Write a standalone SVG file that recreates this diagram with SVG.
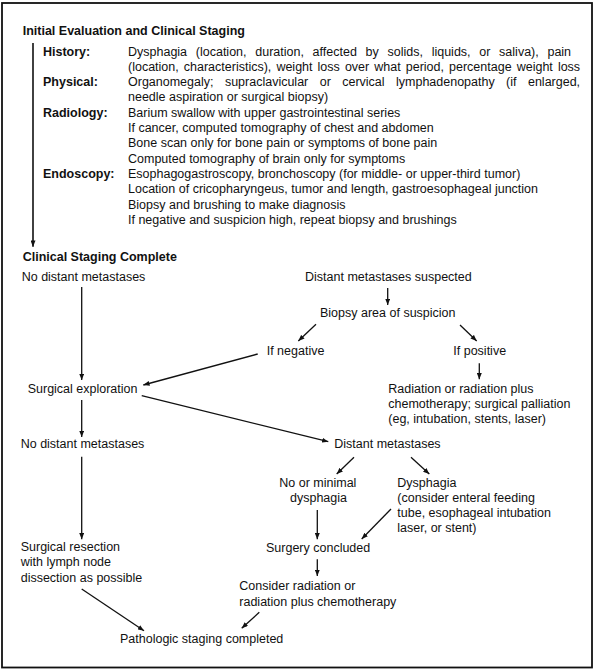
<svg xmlns="http://www.w3.org/2000/svg" width="595" height="670" viewBox="0 0 595 670">
<defs>
<style>
text{font-family:"Liberation Sans",Arial,Helvetica,sans-serif;font-size:12.5px;fill:#111}
.b{font-weight:bold}
.c line{stroke:#111;stroke-width:1.3;fill:none;marker-end:url(#ah)}
</style>
<marker id="ah" viewBox="0 0 10 8" refX="10" refY="4" markerWidth="6.5" markerHeight="5" markerUnits="userSpaceOnUse" orient="auto">
<path d="M0,0 L10,4 L0,8 z" fill="#111"/>
</marker>
</defs>
<rect x="0" y="0" width="595" height="670" fill="#fff"/>
<rect x="2" y="3" width="590" height="664.5" fill="none" stroke="#111" stroke-width="1.8"/>

<g id="initial-evaluation">
<text class="b" x="22.7" y="35">Initial Evaluation and Clinical Staging</text>
<text class="b" x="43" y="55.5">History:</text>
<text x="128" y="55.5" word-spacing="5.25">Dysphagia (location, duration, affected by solids, liquids, or saliva), pain</text>
<text x="128" y="70.8" word-spacing="1.6">(location, characteristics), weight loss over what period, percentage weight loss</text>
<text class="b" x="43" y="86.1">Physical:</text>
<text x="128" y="86.1" word-spacing="7.95">Organomegaly; supraclavicular or cervical lymphadenopathy (if enlarged,</text>
<text x="128" y="101.4">needle aspiration or surgical biopsy)</text>
<text class="b" x="43" y="116.7">Radiology:</text>
<text x="128" y="116.7">Barium swallow with upper gastrointestinal series</text>
<text x="128" y="132">If cancer, computed tomography of chest and abdomen</text>
<text x="128" y="147.3">Bone scan only for bone pain or symptoms of bone pain</text>
<text x="128" y="162.6">Computed tomography of brain only for symptoms</text>
<text class="b" x="43" y="177.9">Endoscopy:</text>
<text x="128" y="177.9">Esophagogastroscopy, bronchoscopy (for middle- or upper-third tumor)</text>
<text x="128" y="193.2">Location of cricopharyngeus, tumor and length, gastroesophageal junction</text>
<text x="128" y="208.5">Biopsy and brushing to make diagnosis</text>
<text x="128" y="223.8">If negative and suspicion high, repeat biopsy and brushings</text>
</g>

<g id="clinical-staging-complete"><text class="b" x="22.7" y="260.7">Clinical Staging Complete</text></g>
<g id="no-distant-metastases-1"><text x="21.7" y="280.7">No distant metastases</text></g>
<g id="distant-metastases-suspected"><text x="305" y="280.7">Distant metastases suspected</text></g>
<g id="biopsy-area"><text x="320" y="317.3">Biopsy area of suspicion</text></g>
<g id="if-negative"><text x="266.7" y="355">If negative</text></g>
<g id="if-positive"><text x="453.3" y="355">If positive</text></g>
<g id="surgical-exploration"><text x="27.7" y="393.3">Surgical exploration</text></g>
<g id="radiation-palliation">
<text x="388.3" y="392.7">Radiation or radiation plus</text>
<text x="388.3" y="407.7">chemotherapy; surgical palliation</text>
<text x="388.3" y="423.3">(eg, intubation, stents, laser)</text>
</g>
<g id="no-distant-metastases-2"><text x="20.7" y="448.3">No distant metastases</text></g>
<g id="distant-metastases"><text x="334.3" y="448.3">Distant metastases</text></g>
<g id="no-minimal-dysphagia">
<text x="279.3" y="486.7">No or minimal</text>
<text x="290" y="501.7">dysphagia</text>
</g>
<g id="dysphagia">
<text x="397.3" y="486.7">Dysphagia</text>
<text x="397.3" y="501.7">(consider enteral feeding</text>
<text x="397.3" y="517">tube, esophageal intubation</text>
<text x="397.3" y="532">laser, or stent)</text>
</g>
<g id="surgery-concluded"><text x="266" y="551.7">Surgery concluded</text></g>
<g id="surgical-resection">
<text x="20.7" y="551">Surgical resection</text>
<text x="20.7" y="566">with lymph node</text>
<text x="20.7" y="581.7">dissection as possible</text>
</g>
<g id="consider-radiation">
<text x="239.3" y="590">Consider radiation or</text>
<text x="239.3" y="605.7">radiation plus chemotherapy</text>
</g>
<g id="pathologic-staging"><text x="120" y="642.7">Pathologic staging completed</text></g>

<g id="connectors" class="c">
<line x1="33" y1="43" x2="33" y2="246.7" style="stroke-width:1.6"/>
<line x1="81.7" y1="287" x2="81.7" y2="380"/>
<line x1="387.7" y1="288" x2="387.7" y2="305"/>
<line x1="316" y1="324.3" x2="298.3" y2="341"/>
<line x1="460" y1="325" x2="476.7" y2="341"/>
<line x1="257.7" y1="354" x2="143.3" y2="385"/>
<line x1="479.3" y1="363.3" x2="479.3" y2="379.3"/>
<line x1="141.7" y1="395.7" x2="328.3" y2="441.7"/>
<line x1="81.7" y1="400" x2="81.7" y2="437"/>
<line x1="81.7" y1="456.7" x2="81.7" y2="539.3"/>
<line x1="354" y1="457.3" x2="336.7" y2="474"/>
<line x1="411" y1="457.3" x2="429.3" y2="474"/>
<line x1="317.3" y1="510" x2="317.3" y2="539.3"/>
<line x1="391" y1="509" x2="361.7" y2="539"/>
<line x1="317.3" y1="559.3" x2="317.3" y2="576"/>
<line x1="81.7" y1="589" x2="144" y2="630.7"/>
<line x1="259.3" y1="612.3" x2="241.7" y2="628.3"/>
</g>
</svg>
